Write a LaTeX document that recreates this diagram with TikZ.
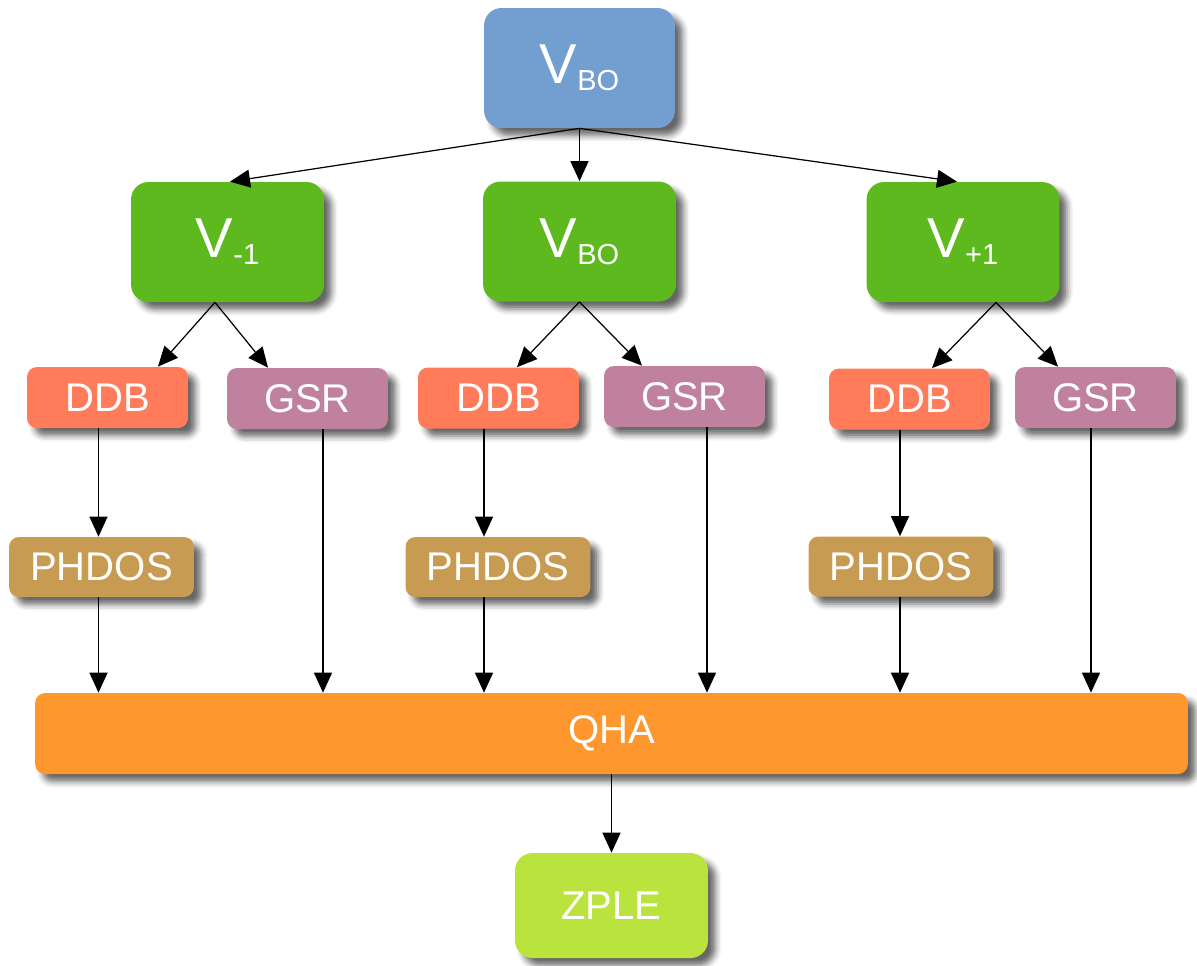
\documentclass[tikz,border=0pt]{standalone}
\usepackage{fontspec}
\setmainfont{Liberation Sans}
\usepackage{tikz}
\usetikzlibrary{arrows.meta,shadows.blur}
\definecolor{volblue}{HTML}{729FCF}
\definecolor{volgreen}{HTML}{5EB91E}
\definecolor{ddbred}{HTML}{FF7B59}
\definecolor{gsrpink}{HTML}{BF819E}
\definecolor{dosbrown}{HTML}{C89B52}
\definecolor{qhaorange}{HTML}{FF972F}
\definecolor{zplelime}{HTML}{BBE33D}
\newcommand{\lowtxt}[1]{\raisebox{-0.12em}{\fontsize{16.5}{17}\selectfont #1}}

\begin{document}
\begin{tikzpicture}[x=0.02cm, y=-0.02cm, >={Triangle[length=0.4cm,width=0.36cm]},
    box/.style={text=white, inner sep=0pt, rounded corners=0.2cm,
        font=\fontsize{22.8}{24}\selectfont,
        blur shadow={shadow xshift=0.15cm, shadow yshift=-0.15cm,
            shadow blur radius=0.12cm, shadow opacity=60}},
    vol/.style={box, minimum width=3.86cm, minimum height=2.4cm,
        rounded corners=0.35cm, font=\fontsize{32}{34}\selectfont},
    small/.style={box, minimum width=3.22cm, minimum height=1.22cm},
    dos/.style={box, fill=dosbrown, minimum width=3.7cm, minimum height=1.2cm},
    arr/.style={->, line width=0.7pt}]
    \useasboundingbox (0,0) rectangle (1197,965);

    % Volumes
    \node[vol, fill=volblue, minimum width=3.82cm] (vbo) at (579.5,68) {V\lowtxt{BO}};
    \node[vol, fill=volgreen] (vm) at (227.5,242) {V\lowtxt{-1}};
    \node[vol, fill=volgreen] (vz) at (579.5,241.5) {V\lowtxt{BO}};
    \node[vol, fill=volgreen] (vp) at (963,242) {V\lowtxt{+1}};

    % DDB and GSR for each volume
    \node[small, fill=ddbred] (ddbA) at (107.5,397.5) {DDB};
    \node[small, fill=gsrpink] (gsrA) at (307.5,398.5) {GSR};
    \node[small, fill=ddbred] (ddbB) at (498.5,398) {DDB};
    \node[small, fill=gsrpink] (gsrB) at (684.5,396.5) {GSR};
    \node[small, fill=ddbred] (ddbC) at (909.5,399) {DDB};
    \node[small, fill=gsrpink] (gsrC) at (1095.5,397.5) {GSR};

    % Phonon DOS
    \node[dos] (phdosA) at (101.5,567) {PHDOS};
    \node[dos] (phdosB) at (498,567) {PHDOS};
    \node[dos] (phdosC) at (901,566.5) {PHDOS};

    % QHA and ZPLE
    \node[box, fill=qhaorange, minimum width=23.06cm, minimum height=1.62cm] (qha) at (611.5,733.5) {QHA};
    \node[box, fill=zplelime, minimum width=3.86cm, minimum height=2.1cm, rounded corners=0.35cm] (zple) at (611.5,905.5) {ZPLE};

    % Arrows from the top volume
    \draw[arr] (vbo.south) -- ([xshift=0.05cm]vm.north);
    \draw[arr] (vbo.south) -- (vz.north);
    \draw[arr] (vbo.south) -- ([xshift=-0.12cm]vp.north);

    % Arrows to DDB and GSR
    \draw[arr] ([xshift=-0.25cm]vm.south) -- ([xshift=1.01cm]ddbA.north);
    \draw[arr] ([xshift=-0.25cm]vm.south) -- ([xshift=-0.79cm]gsrA.north);
    \draw[arr] (vz.south) -- ([xshift=0.37cm]ddbB.north);
    \draw[arr] (vz.south) -- ([xshift=-0.85cm]gsrB.north);
    \draw[arr] ([xshift=0.66cm]vp.south) -- ([xshift=0.45cm]ddbC.north);
    \draw[arr] ([xshift=0.66cm]vp.south) -- ([xshift=-0.75cm]gsrC.north);

    % Down to QHA
    \foreach \c/\dx/\gx in {A/-9/15.5, B/-14.5/22.5, C/-9.5/-4.5} {
        \coordinate (col\c) at ([xshift=\dx*0.02cm]ddb\c.south);
        \coordinate (gcol\c) at ([xshift=\gx*0.02cm]gsr\c.south);
        \draw[arr] (col\c) -- (col\c |- phdos\c.north);
        \draw[arr] (col\c |- phdos\c.south) -- (col\c |- qha.north);
        \draw[arr] (gcol\c) -- (gcol\c |- qha.north);
    }

    \draw[arr] (qha.south) -- (zple.north);
\end{tikzpicture}
\end{document}
